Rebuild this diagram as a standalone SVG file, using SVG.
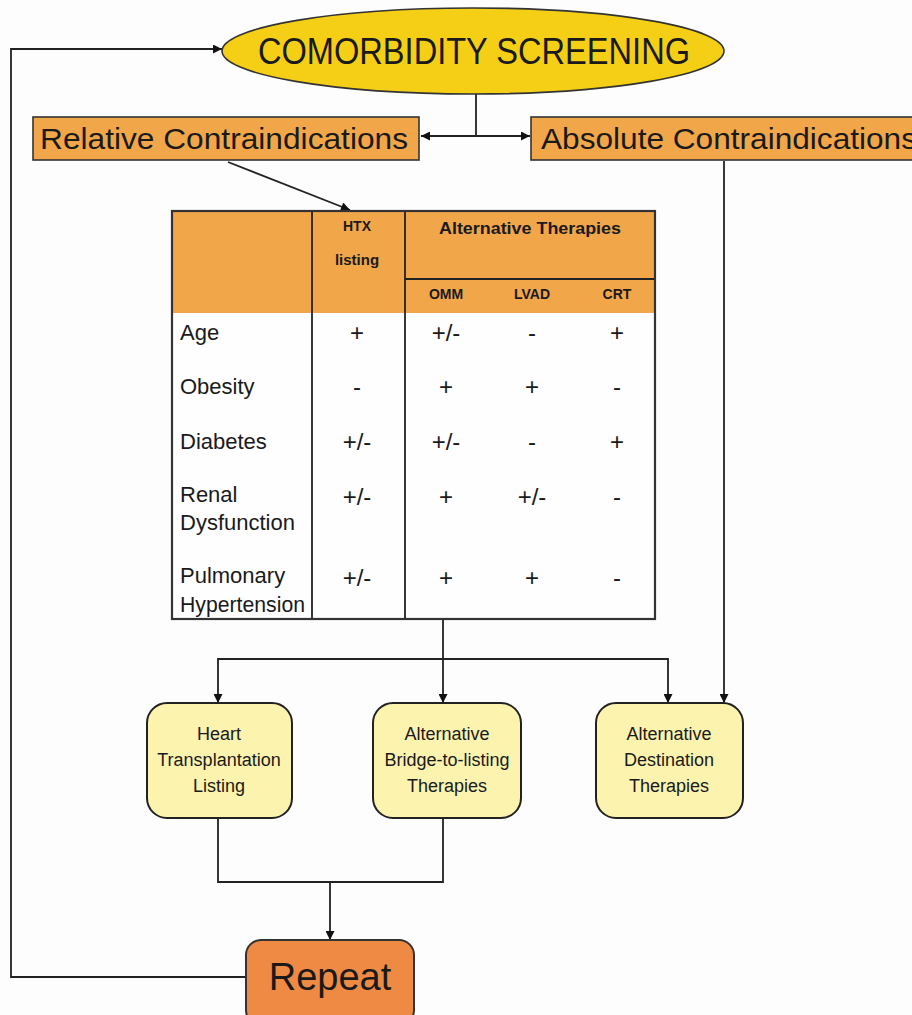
<svg xmlns="http://www.w3.org/2000/svg" width="912" height="1015" viewBox="0 0 912 1015">
<defs>
<marker id="ah" viewBox="0 0 10 10" refX="10" refY="5" markerWidth="10" markerHeight="9" markerUnits="userSpaceOnUse" orient="auto">
<path d="M0,0 L10,5 L0,10 z" fill="#111"/>
</marker>
<style>
text{font-family:"Liberation Sans","DejaVu Sans",sans-serif;fill:#1a1a1a}
.ln{fill:none;stroke:#222;stroke-width:1.8}
.hd{font-weight:bold;text-anchor:middle}
.rl{font-size:22px}
.v{font-size:24px;text-anchor:middle}
.bx{font-size:18px;text-anchor:middle}
.res{fill:#fbf3ae;stroke:#222;stroke-width:2}
.org{fill:#f2a64a;stroke:#333;stroke-width:1.6}
</style>
</defs>
<rect width="912" height="1015" fill="#fdfdfd"/>
<g id="connectors">
<path class="ln" d="M476,94 V136"/>
<path class="ln" d="M476,136 H421" marker-end="url(#ah)"/>
<path class="ln" d="M476,136 H530" marker-end="url(#ah)"/>
<path class="ln" d="M228,162 L350,210" marker-end="url(#ah)"/>
<path class="ln" d="M724,161 V703" marker-end="url(#ah)"/>
<path class="ln" d="M443,620 V703" marker-end="url(#ah)"/>
<path class="ln" d="M443,659 H218 V703" marker-end="url(#ah)"/>
<path class="ln" d="M443,659 H668 V703" marker-end="url(#ah)"/>
<path class="ln" d="M218,818 V882 H443 V818"/>
<path class="ln" d="M330,882 V940" marker-end="url(#ah)"/>
<path class="ln" d="M246,977 H11 V49 H222" marker-end="url(#ah)"/>
</g>
<g id="screening">
<ellipse cx="473" cy="51" rx="251" ry="43" fill="#f5cf16" stroke="#333" stroke-width="1.6"/>
<text x="474" y="64" font-size="36" text-anchor="middle" textLength="432" lengthAdjust="spacingAndGlyphs">COMORBIDITY SCREENING</text>
</g>
<g id="relative">
<rect class="org" x="33" y="117" width="386" height="43"/>
<text x="40" y="149" font-size="30" textLength="368" lengthAdjust="spacingAndGlyphs">Relative Contraindications</text>
</g>
<g id="absolute">
<rect class="org" x="531" y="117" width="390" height="43"/>
<text x="541" y="149" font-size="30" textLength="376" lengthAdjust="spacingAndGlyphs">Absolute Contraindications</text>
</g>
<g id="table">
<rect x="172" y="211" width="483" height="102" fill="#f2a64a"/>
<rect x="172" y="313" width="483" height="306" fill="#fefefe"/>
<path class="ln" d="M312,211 V619 M405,211 V619 M405,279 H655"/>
<rect x="172" y="211" width="483" height="408" fill="none" stroke="#333" stroke-width="2.2"/>
<text class="hd" x="357" y="231" font-size="14">HTX</text>
<text class="hd" x="357" y="265" font-size="15">listing</text>
<text class="hd" x="530" y="234" font-size="17" textLength="182" lengthAdjust="spacingAndGlyphs">Alternative Therapies</text>
<text class="hd" x="446" y="299" font-size="14">OMM</text>
<text class="hd" x="532" y="299" font-size="14">LVAD</text>
<text class="hd" x="617" y="299" font-size="14">CRT</text>
<text class="rl" x="180" y="340">Age</text>
<text class="rl" x="180" y="394">Obesity</text>
<text class="rl" x="180" y="449">Diabetes</text>
<text class="rl" x="180" y="502">Renal</text>
<text class="rl" x="180" y="530">Dysfunction</text>
<text class="rl" x="180" y="583">Pulmonary</text>
<text class="rl" x="180" y="612" textLength="125" lengthAdjust="spacingAndGlyphs">Hypertension</text>
<text class="v" x="357" y="341">+</text><text class="v" x="446" y="341">+/-</text><text class="v" x="532" y="341">-</text><text class="v" x="617" y="341">+</text>
<text class="v" x="357" y="395">-</text><text class="v" x="446" y="395">+</text><text class="v" x="532" y="395">+</text><text class="v" x="617" y="395">-</text>
<text class="v" x="357" y="450">+/-</text><text class="v" x="446" y="450">+/-</text><text class="v" x="532" y="450">-</text><text class="v" x="617" y="450">+</text>
<text class="v" x="357" y="505">+/-</text><text class="v" x="446" y="505">+</text><text class="v" x="532" y="505">+/-</text><text class="v" x="617" y="505">-</text>
<text class="v" x="357" y="586">+/-</text><text class="v" x="446" y="586">+</text><text class="v" x="532" y="586">+</text><text class="v" x="617" y="586">-</text>
</g>
<g id="heart">
<rect class="res" x="147" y="703" width="145" height="115" rx="20"/>
<text class="bx" x="219" y="740">Heart</text>
<text class="bx" x="219" y="766">Transplantation</text>
<text class="bx" x="219" y="792">Listing</text>
</g>
<g id="bridge">
<rect class="res" x="373" y="703" width="148" height="115" rx="20"/>
<text class="bx" x="447" y="740">Alternative</text>
<text class="bx" x="447" y="766">Bridge-to-listing</text>
<text class="bx" x="447" y="792">Therapies</text>
</g>
<g id="destination">
<rect class="res" x="596" y="703" width="147" height="115" rx="20"/>
<text class="bx" x="669" y="740">Alternative</text>
<text class="bx" x="669" y="766">Destination</text>
<text class="bx" x="669" y="792">Therapies</text>
</g>
<g id="repeat">
<rect x="246" y="940" width="168" height="85" rx="15" fill="#ee8a44" stroke="#333" stroke-width="2"/>
<text x="330" y="990" font-size="38" text-anchor="middle">Repeat</text>
</g>
</svg>
